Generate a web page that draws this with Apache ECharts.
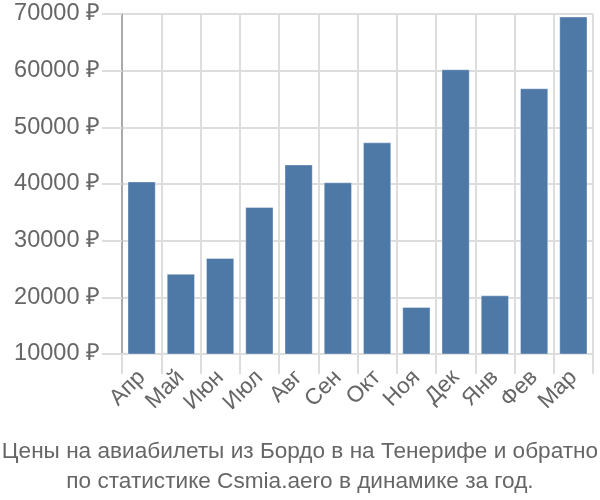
<!DOCTYPE html>
<html>
<head>
<meta charset="utf-8">
<script src="https://cdn.jsdelivr.net/npm/echarts@6/dist/echarts.min.js"></script>
<style>html,body{margin:0;padding:0;background:#fff}#c{width:600px;height:500px}</style>
</head>
<body>
<div id="c"></div>
<script>
var categories = ['Апр','Май','Июн','Июл','Авг','Сен','Окт','Ноя','Дек','Янв','Фев','Мар'];
var prices = [40450, 24150, 26950, 35950, 43450, 40300, 47350, 18300, 60250, 20350, 56900, 69550];
var yTicks = [10000, 20000, 30000, 40000, 50000, 60000, 70000];
var titleLines = ['Цены на авиабилеты из Бордо в на Тенерифе и обратно', 'по статистике Csmia.aero в динамике за год.'];

var chart = echarts.init(document.getElementById('c'), null, {renderer: 'canvas'});
var font = '"Liberation Sans", Arial, sans-serif';
chart.setOption({
  animation: false,
  textStyle: {fontFamily: font},
  title: {
    text: titleLines.join('\n'),
    left: 'center',
    top: 432,
    textStyle: {fontFamily: font, fontSize: 22.6, fontWeight: 'normal', color: '#666', lineHeight: 30}
  },
  grid: {left: 122, right: 7, top: 14, bottom: 146, containLabel: false},
  xAxis: {
    type: 'category',
    data: categories,
    boundaryGap: true,
    axisLine: {show: true, lineStyle: {color: '#ddd', width: 2}},
    axisTick: {show: true, length: 20, interval: 0, lineStyle: {color: '#ddd', width: 2}},
    splitLine: {show: true, interval: 0, lineStyle: {color: '#ddd', width: 2}},
    axisLabel: {rotate: 45, interval: 0, margin: 20, fontSize: 22.5, color: '#666', fontFamily: font}
  },
  yAxis: {
    type: 'value',
    min: yTicks[0],
    max: yTicks[yTicks.length - 1],
    interval: 10000,
    axisLine: {show: true, lineStyle: {color: '#aaa', width: 2}},
    axisTick: {show: true, length: 20, lineStyle: {color: '#ddd', width: 2}},
    splitLine: {show: true, lineStyle: {color: '#ddd', width: 2}},
    axisLabel: {margin: 22, fontSize: 23.5, color: '#666', fontFamily: font,
      formatter: function (v) { return v + ' ₽'; }}
  },
  series: [{
    type: 'bar',
    data: prices,
    barCategoryGap: '28%',
    itemStyle: {color: '#4e79a7', borderColor: 'rgba(255,255,255,0.35)', borderWidth: 1}
  }]
});
</script>
</body>
</html>
